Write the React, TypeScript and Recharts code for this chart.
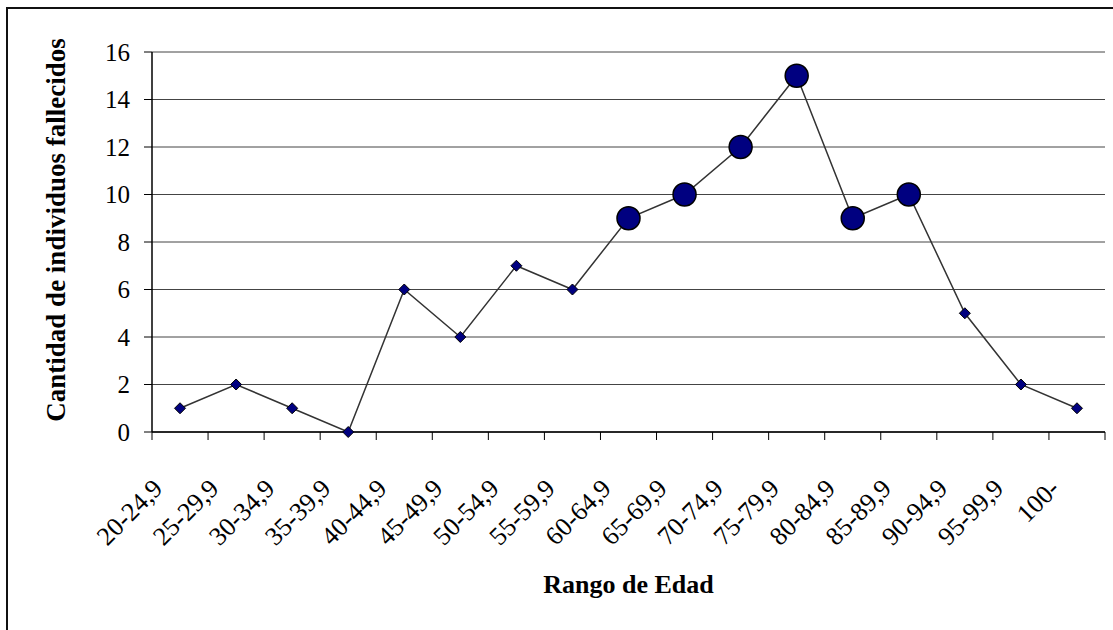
import { LineChart, Line, XAxis, YAxis, CartesianGrid } from 'recharts'

const CATEGORIES = [
    '20-24,9', '25-29,9', '30-34,9', '35-39,9', '40-44,9', '45-49,9',
    '50-54,9', '55-59,9', '60-64,9', '65-69,9', '70-74,9', '75-79,9',
    '80-84,9', '85-89,9', '90-94,9', '95-99,9', '100-',
]
const FALLECIDOS = [1, 2, 1, 0, 6, 4, 7, 6, 9, 10, 12, 15, 9, 10, 5, 2, 1]
// rangos marcados con círculo grande en el original
const DESTACADOS = ['60-64,9', '65-69,9', '70-74,9', '75-79,9', '80-84,9', '85-89,9']
const Y_TICKS = [0, 2, 4, 6, 8, 10, 12, 14, 16]

const FONT = '"Liberation Serif", "Times New Roman", serif'
const NAVY = '#000080'

const data = CATEGORIES.map((rango, i) => ({ rango, valor: FALLECIDOS[i] }))

// etiqueta girada + marcas de división entre rangos (estilo Excel)
const RangoTick = (props: any) => {
    const { x, y, payload, index, width, visibleTicksCount } = props
    const half = width / visibleTicksCount / 2
    const px = x - 16
    const py = y + 58
    return (
        <g>
            <line x1={x - half} x2={x - half} y1={y} y2={y + 8} stroke="#000" />
            {index === visibleTicksCount - 1 && (
                <line x1={x + half} x2={x + half} y1={y} y2={y + 8} stroke="#000" />
            )}
            <text
                x={px}
                y={py}
                transform={`rotate(-45, ${px}, ${py})`}
                textAnchor="end"
                fontFamily={FONT}
                fontSize={26}
                fill="#000"
            >
                {payload.value}
            </text>
        </g>
    )
}

const Marcador = (props: any) => {
    const { cx, cy, payload, index } = props
    if (cx == null || cy == null) return <g key={`m-${index}`} />
    if (DESTACADOS.includes(payload.rango)) {
        return <circle key={`m-${index}`} cx={cx} cy={cy} r={11.5} fill={NAVY} stroke="#000" strokeWidth={1.5} />
    }
    const s = 5.5
    return (
        <path
            key={`m-${index}`}
            d={`M${cx},${cy - s}L${cx + s},${cy}L${cx},${cy + s}L${cx - s},${cy}Z`}
            fill={NAVY}
            stroke="#000"
            strokeWidth={1}
        />
    )
}

export default function App() {
    return (
        <div style={{ position: 'fixed', left: 0, top: 0, width: 1113, height: 630, overflow: 'hidden', background: '#fff' }}>
            <div style={{ position: 'absolute', left: 6, top: 7, width: 1200, height: 700, border: '2px solid #111' }} />
            <div style={{ position: 'absolute', left: 0, top: 0 }}>
                <LineChart width={1113} height={630} data={data} margin={{ top: 52, right: 8, left: 0, bottom: 33 }}>
                    <CartesianGrid vertical={false} stroke="#444" strokeWidth={1} />
                    <XAxis
                        dataKey="rango"
                        scale="band"
                        interval={0}
                        height={165}
                        tick={<RangoTick />}
                        tickLine={false}
                        tickSize={0}
                        tickMargin={0}
                        axisLine={{ stroke: '#000', strokeWidth: 1.5 }}
                        label={{
                            value: 'Rango de Edad',
                            position: 'insideBottom',
                            offset: 4,
                            style: { fontFamily: FONT, fontSize: 26, fontWeight: 'bold', fill: '#000' },
                        }}
                    />
                    <YAxis
                        domain={[0, 16]}
                        ticks={Y_TICKS}
                        width={152}
                        tickSize={8}
                        tickMargin={14}
                        tickLine={{ stroke: '#000' }}
                        axisLine={{ stroke: '#000', strokeWidth: 1.5 }}
                        tick={{ fontFamily: FONT, fontSize: 25, fill: '#000' }}
                        label={{
                            value: 'Cantidad de individuos fallecidos',
                            angle: -90,
                            position: 'insideLeft',
                            offset: 55,
                            dy: -12,
                            style: { textAnchor: 'middle', fontFamily: FONT, fontSize: 27, fontWeight: 'bold', fill: '#000' },
                        }}
                    />
                    <YAxis
                        yAxisId="right"
                        orientation="right"
                        domain={[0, 16]}
                        width={0}
                        tick={false}
                        tickLine={false}
                        axisLine={{ stroke: '#888', strokeWidth: 2 }}
                    />
                    <Line
                        dataKey="valor"
                        stroke="#333"
                        strokeWidth={1.5}
                        dot={Marcador}
                        activeDot={false}
                        isAnimationActive={false}
                    />
                </LineChart>
            </div>
        </div>
    )
}
